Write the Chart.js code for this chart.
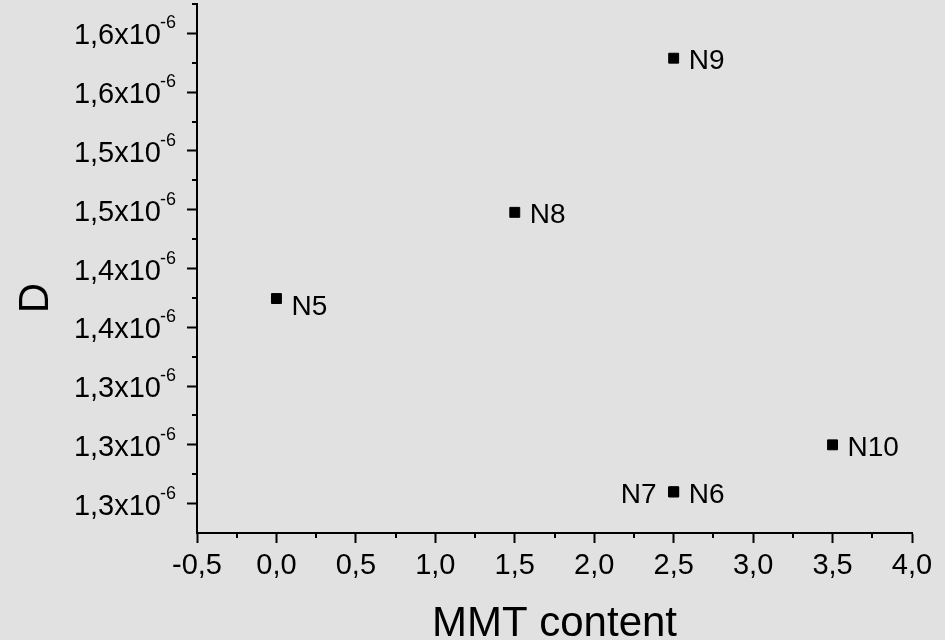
<!DOCTYPE html>
<html>
<head>
<meta charset="utf-8">
<title>D vs MMT content</title>
<script src="https://cdn.jsdelivr.net/npm/chart.js@4/dist/chart.umd.min.js"></script>
<style>
  html, body { margin: 0; padding: 0; background: #e1e1e1; }
  #wrap { width: 945px; height: 640px; }
  canvas { display: block; }
</style>
</head>
<body>
<div id="wrap"><canvas id="chart" width="945" height="640"></canvas></div>
<script>
// Samples and their position: MMT content (x) and diffusion coefficient D (in units of 10^-6)
const sampleNames = ['N5', 'N6', 'N7', 'N8', 'N9', 'N10'];
const mmtContent  = [0.0, 2.5, 2.5, 1.5, 2.5, 3.5];
const dValues     = [1.407, 1.259, 1.259, 1.473, 1.591, 1.295];

// Y axis ticks (units of 10^-6) and the labels printed beside them
const yTickValues = [1.25, 1.295, 1.34, 1.385, 1.43, 1.475, 1.52, 1.565, 1.61];
const yTickLabels = ['1,3', '1,3', '1,3', '1,4', '1,4', '1,5', '1,5', '1,6', '1,6'];
const yExponent = '-6';

// X axis range and tick step
const xMin = -0.5, xMax = 4.0, xStep = 0.5;

const FONT = '"Liberation Sans", Arial, Helvetica, sans-serif';
const yStep = yTickValues[1] - yTickValues[0];

// Point labels that sit to the left of their marker
const leftLabelled = new Set(['N7']);
const labelNudgeY = { N5: 6 };

const backgroundPlugin = {
  id: 'pageBackground',
  beforeDraw(chart) {
    const ctx = chart.ctx;
    ctx.save();
    ctx.fillStyle = '#e1e1e1';
    ctx.fillRect(0, 0, chart.width, chart.height);
    ctx.restore();
  }
};

// Minor ticks halfway between the major ones, on both axes
const minorTicksPlugin = {
  id: 'minorTicks',
  afterDraw(chart) {
    const { ctx, scales: { x, y } } = chart;
    ctx.save();
    ctx.strokeStyle = '#000';
    ctx.lineWidth = 2;
    ctx.beginPath();
    for (let v = xMin + xStep / 2; v < xMax; v += xStep) {
      const px = Math.round(x.getPixelForValue(v));
      ctx.moveTo(px, y.bottom);
      ctx.lineTo(px, y.bottom + 5);
    }
    yTickValues.forEach(v => {
      const py = Math.round(y.getPixelForValue(v + yStep / 2));
      ctx.moveTo(x.left, py);
      ctx.lineTo(x.left - 5, py);
    });
    ctx.stroke();
    ctx.restore();
  }
};

// Y tick labels written as mantissa x 10 with a raised exponent
const yLabelsPlugin = {
  id: 'yTickLabels',
  afterDraw(chart) {
    const { ctx, scales: { y } } = chart;
    ctx.save();
    ctx.fillStyle = '#000';
    ctx.textBaseline = 'alphabetic';
    yTickValues.forEach((v, i) => {
      const py = y.getPixelForValue(v);
      const supX = 160;
      ctx.font = '29px ' + FONT;
      ctx.textAlign = 'right';
      ctx.fillText(yTickLabels[i] + 'x10', supX + 1, py + 11);
      ctx.font = '18px ' + FONT;
      ctx.textAlign = 'left';
      ctx.fillText(yExponent, supX, py - 5);
    });
    // axis title
    ctx.translate(48, 298);
    ctx.rotate(-Math.PI / 2);
    ctx.font = '42px ' + FONT;
    ctx.textAlign = 'center';
    ctx.fillText('D', 0, 0);
    ctx.restore();
  }
};

// Sample names next to each marker
const pointLabelsPlugin = {
  id: 'pointLabels',
  afterDatasetsDraw(chart) {
    const ctx = chart.ctx;
    const meta = chart.getDatasetMeta(0);
    ctx.save();
    ctx.fillStyle = '#000';
    ctx.font = '28px ' + FONT;
    ctx.textBaseline = 'alphabetic';
    meta.data.forEach((el, i) => {
      const name = sampleNames[i];
      const left = leftLabelled.has(name);
      ctx.textAlign = left ? 'right' : 'left';
      const dy = labelNudgeY[name] || 1;
      ctx.fillText(name, el.x + (left ? -17 : 15), el.y + 10 + dy);
    });
    ctx.restore();
  }
};

new Chart(document.getElementById('chart'), {
  type: 'scatter',
  data: {
    datasets: [{
      label: 'D',
      data: mmtContent.map((m, i) => ({ x: m, y: dValues[i] })),
      pointStyle: 'rect',
      pointRadius: 7,
      pointHoverRadius: 7,
      backgroundColor: '#000',
      borderColor: '#000',
      borderWidth: 1
    }]
  },
  options: {
    responsive: false,
    animation: false,
    events: [],
    layout: { autoPadding: false, padding: { top: 4, right: 33, left: 0, bottom: 0 } },
    plugins: { legend: { display: false }, tooltip: { enabled: false } },
    scales: {
      x: {
        type: 'linear',
        min: xMin,
        max: xMax,
        afterFit(scale) { scale.height = 107; },
        ticks: {
          stepSize: xStep,
          color: '#000',
          padding: 6,
          font: { family: FONT, size: 29 },
          callback: v => v.toFixed(1).replace('.', ',')
        },
        grid: {
          display: true,
          drawOnChartArea: false,
          drawTicks: true,
          tickLength: 10,
          tickWidth: 2,
          tickColor: '#000'
        },
        border: { display: true, color: '#000', width: 2 },
        title: {
          display: true,
          text: 'MMT content',
          color: '#000',
          font: { family: FONT, size: 42, lineHeight: 0.8 },
          padding: { top: 0, bottom: -1 }
        }
      },
      y: {
        type: 'linear',
        min: yTickValues[0] - yStep / 2,
        max: yTickValues[yTickValues.length - 1] + yStep / 2,
        afterBuildTicks(scale) { scale.ticks = yTickValues.map(v => ({ value: v })); },
        afterFit(scale) { scale.width = 197; },
        ticks: { display: false },
        grid: {
          display: true,
          drawOnChartArea: false,
          drawTicks: true,
          tickLength: 10,
          tickWidth: 2,
          tickColor: '#000'
        },
        border: { display: true, color: '#000', width: 2 }
      }
    }
  },
  plugins: [backgroundPlugin, minorTicksPlugin, yLabelsPlugin, pointLabelsPlugin]
});
</script>
</body>
</html>
